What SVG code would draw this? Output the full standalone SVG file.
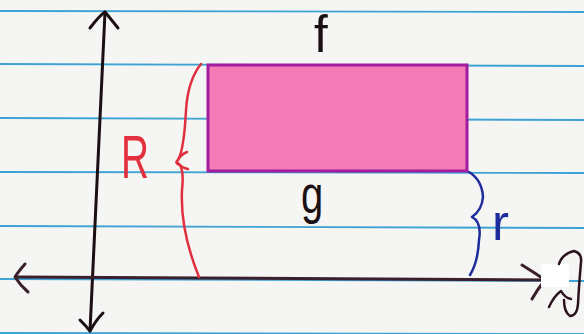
<svg xmlns="http://www.w3.org/2000/svg" width="584" height="334" viewBox="0 0 584 334">
<style>
.rule{stroke:#3da2d4;stroke-width:1.8;fill:none}
.ink{fill:none;stroke-linecap:round;stroke-linejoin:round}
.hand{font-family:"Liberation Sans",Arial,sans-serif;font-weight:normal}
</style>
<rect x="0" y="0" width="584" height="334" fill="#f5f5f3"/>
<g id="paper-lines">
<line class="rule" x1="0" y1="11" x2="584" y2="12"/>
<line class="rule" x1="0" y1="64" x2="584" y2="66"/>
<line class="rule" x1="0" y1="118" x2="584" y2="120"/>
<line class="rule" x1="0" y1="172" x2="584" y2="173"/>
<line class="rule" x1="0" y1="226" x2="584" y2="228"/>
<line class="rule" x1="0" y1="279" x2="584" y2="281"/>
<line class="rule" x1="0" y1="333" x2="584" y2="334"/>
</g>
<g id="connectors">
<path class="ink" stroke="#1c0f14" stroke-width="3" d="M105 12 L90 331"/>
<path class="ink" stroke="#1c0f14" stroke-width="3" d="M90 28 Q100 15 105 12 Q110 18 118 28"/>
<path class="ink" stroke="#1c0f14" stroke-width="3" d="M80 320 Q86 326 90 331 Q96 320 103 313"/>
<path class="ink" stroke="#3a1f2c" stroke-width="3" d="M16 277 L200 278 L545 280"/>
<path class="ink" stroke="#3a1f2c" stroke-width="3" d="M25 264 Q18 272 15 277 Q20 285 28 292"/>
<path class="ink" stroke="#3a1f2c" stroke-width="3" d="M522 265 Q535 273 545 280 Q537 290 532 299"/>
</g>
<g id="region-f">
<rect x="208" y="65" width="259" height="106" fill="#f47cb6" stroke="#a41c9e" stroke-width="3"/>
<text class="hand" transform="translate(314 52) scale(1.3 1.35)" font-size="38" fill="#1a1014">f</text>
</g>
<g id="label-g">
<text class="hand" transform="translate(301 213) scale(1 1.35)" font-size="40" fill="#1a1014">g</text>
</g>
<g id="brace-R">
<path class="ink" stroke="#e0303f" stroke-width="2.5" d="M201 64 Q188 80 186 110 Q184 150 178 160 Q174 163 180 165 Q184 172 182 190 Q180 230 199 277"/>
<path class="ink" stroke="#e0303f" stroke-width="2.5" d="M178 160 Q180 155 187 152 M178 163 Q182 168 188 169"/>
<text class="hand" transform="translate(121 178) scale(1 1.4)" font-size="44" fill="#e2303e" textLength="28" lengthAdjust="spacingAndGlyphs">R</text>
</g>
<g id="brace-r">
<path class="ink" stroke="#1e2d9c" stroke-width="2.5" d="M469 172 Q482 180 483 197 Q482 210 472 217 Q482 222 479 240 Q478 262 470 275"/>
<text class="hand" transform="translate(492 240) scale(1 1.4)" font-size="36" fill="#1e2d9c" textLength="17" lengthAdjust="spacingAndGlyphs">r</text>
</g>
<g id="scribble">
<rect x="541" y="264" width="28" height="23" fill="#ffffff"/>
<path class="ink" stroke="#2a1420" stroke-width="2.5" d="M559 264 Q562 254 574 251 Q582 253 581 262 Q579 285 578 304 Q577 316 570 316 Q564 312 564 300"/>
<path class="ink" stroke="#2a1420" stroke-width="2.5" d="M549 307 Q554 296 561 291 Q565 298 571 299"/>
</g>
</svg>
